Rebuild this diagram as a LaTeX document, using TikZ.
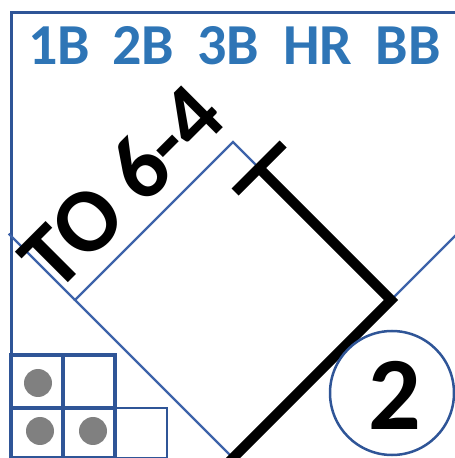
\documentclass[tikz,border=0pt]{standalone}
\usepackage{fontspec}
\setmainfont{Carlito}
\usepackage{xcolor}
\usepackage{tikz}
\usetikzlibrary{
	positioning,                % For relative placement
	calc                        % For coordinate calculations
}
\definecolor{frameblue}{HTML}{2F5597}
\definecolor{lineblue}{HTML}{3D63AA}
\definecolor{labelblue}{HTML}{2E75B6}
\tikzset{
	frameline/.style={
		draw=frameblue,
		line width=3pt
	},
	diamondline/.style={
		draw=lineblue,
		line width=2.4pt
	},
	runpath/.style={
		draw=black,
		line width=10pt
	},
	hitlabel/.style={
		text=labelblue,
		anchor=base,
		inner sep=0pt,
		font=\fontsize{58}{60}\selectfont\bfseries
	},
	cell/.style={
		draw=frameblue,
		line width=4.5pt
	},
	dot/.style={
		circle,
		fill=gray,
		minimum size=28pt,
		inner sep=0pt
	}
}

\begin{document}
\begin{tikzpicture}[x=1pt, y=1pt]
		\clip (0,0) rectangle (455,458);
		
		% Outer frame of the score box
		\draw [frameline] (11,-10) -- (11,445) -- (470,445);
		
		% Row 1: hit types (Top)
		\node [hitlabel] (single) at (59,393) {1B};
		\node [hitlabel] (double) at (143,393) {2B};
		\node [hitlabel] (triple) at (228,393) {3B};
		\node [hitlabel] (homer) at (318,393) {HR};
		\node [hitlabel] (walk) at (408,393) {BB};
		
		% The bases
		\coordinate (home) at (233,0);
		\coordinate (first) at (391,158);
		\coordinate (second) at (233,316);
		\coordinate (third) at (75,158);
		
		% Diamond and foul lines
		\draw [diamondline] (home) -- (first) -- (second) -- (third) -- cycle;
		\draw [diamondline] (third) -- ($(home)!1.42!(third)$);
		\draw [diamondline] (first) -- ($(home)!1.45!(first)$);
		
		% Runner path: home to first, out on the way to second
		\coordinate (stop) at ($(first)!0.835!(second)$);
		\draw [runpath] ($(home)!-0.05!(first)$) -- (first) -- (stop);
		\draw [runpath] ($(stop)+(-24,-24)$) -- ($(stop)+(24,24)$);
		
		% Play note along the third base line
		\node [rotate=45, anchor=base west, inner sep=0pt, font=\fontsize{91}{94}\selectfont\bfseries] (play) at (56,163) {TO 6-4};
		
		% Out number (Bottom right)
		\node [circle, draw=frameblue, line width=2.5pt, minimum size=124pt, inner sep=0pt] (outring) at (392,65) {};
		\node [anchor=base, inner sep=0pt, font=\fontsize{104}{106}\selectfont\bfseries] (outnum) at (395,28) {2};
		
		% Count boxes (Bottom left)
		\draw [cell] (11,50) rectangle (63,103);
		\draw [cell] (63,50) rectangle (115,103);
		\draw [cell] (11,0) rectangle (63,50);
		\draw [cell] (63,0) rectangle (115,50);
		\draw [frameblue, line width=2.5pt] (115,0) rectangle (167,50);
		
		\node [dot] (ballone) at (38,75) {};
		\node [dot] (balltwo) at (40,27) {};
		\node [dot] (ballthree) at (93,27) {};
	\end{tikzpicture}
\end{document}
